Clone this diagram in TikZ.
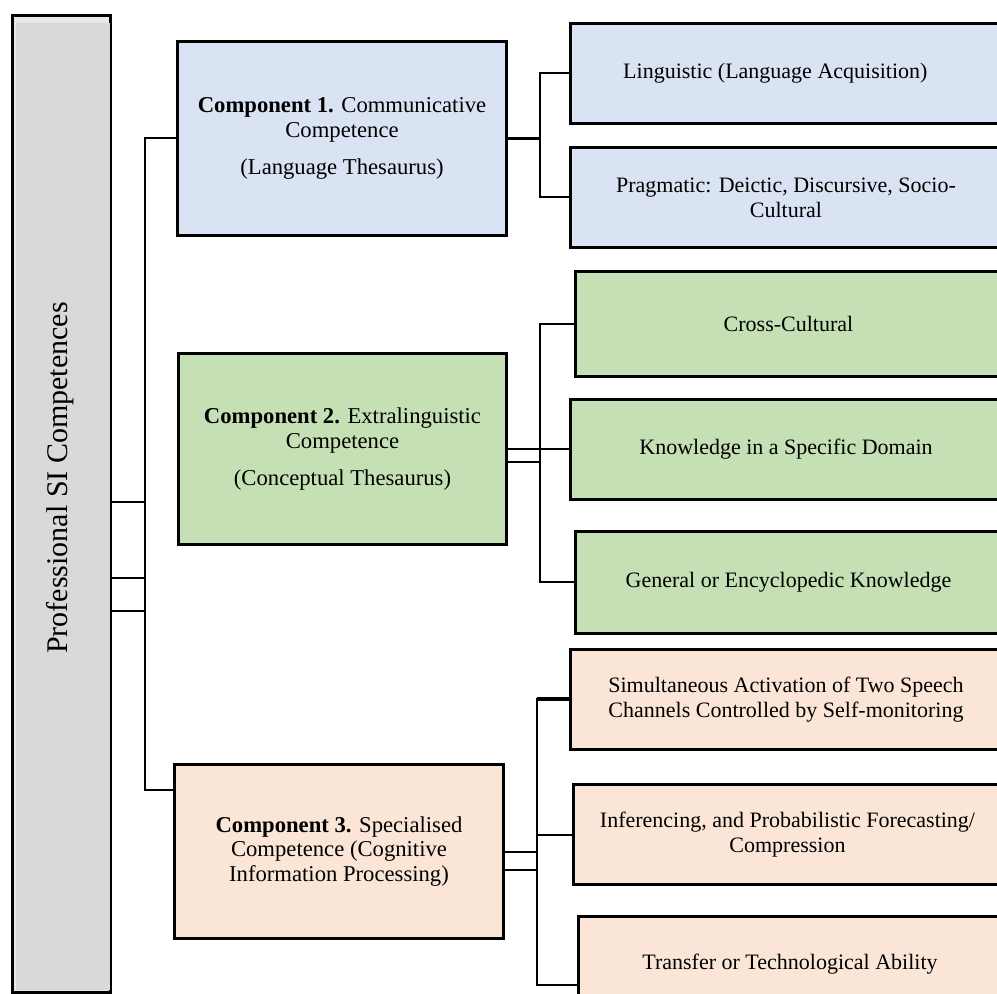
\documentclass[tikz,border=0pt]{standalone}
\usepackage{fontspec}
\setmainfont{Liberation Serif}
\usetikzlibrary{positioning,calc}
\definecolor{sibar}{HTML}{D9D9D9}
\definecolor{sibarlight}{HTML}{E8E8E8}
\definecolor{siblue}{HTML}{DAE3F3}
\definecolor{sigreen}{HTML}{C5E0B4}
\definecolor{sipeach}{HTML}{FBE5D6}
\tikzset{
  compbox/.style={draw=black, line width=2.25pt, anchor=north west, align=center, inner sep=0pt, font=\fontsize{17}{18.5}\selectfont},
  leafbox/.style={compbox, minimum height=75pt, font=\fontsize{16.5}{18.5}\selectfont},
  link/.style={black, line width=1.5pt},
}

\begin{document}
\begin{tikzpicture}[x=0.75pt, y=-0.75pt]
    \useasboundingbox (0,0) rectangle (997,994);
    \clip (0,0) rectangle (997,994);
    % Left bar
    \node[draw=black, line width=2pt, fill=sibarlight, anchor=north west, minimum width=73.5pt, minimum height=732.75pt, inner sep=0pt] (bar) at (11,14) {};
    \fill[sibar] ($(bar.north west)+(5,9)$) rectangle ($(bar.south east)+(-2,-4)$);
    \node[rotate=90, font=\fontsize{22.5}{26}\selectfont] (bartext) at (60,478) {Professional SI Competences};
    % Components
    \node[compbox, fill=siblue, minimum width=246.75pt, minimum height=145.5pt] (c1) at (176,40) {\textbf{Component 1.} Communicative\\Competence\\[9pt](Language Thesaurus)};
    \node[compbox, fill=sigreen, minimum width=246pt, minimum height=143.25pt] (c2) at (177,352) {\textbf{Component 2.} Extralinguistic\\Competence\\[9pt](Conceptual Thesaurus)};
    \node[compbox, fill=sipeach, minimum width=246.75pt, minimum height=130.5pt] (c3) at (173,763) {\textbf{Component 3.} Specialised\\Competence (Cognitive\\Information Processing)};
    % Leaves
    \node[leafbox, fill=siblue, minimum width=323.25pt] (l1) at (569,22) {Linguistic (Language Acquisition)\hspace*{16pt}};
    \node[leafbox, fill=siblue, minimum width=323.25pt] (l2) at (569,146) {Pragmatic: Deictic, Discursive, Socio-\\Cultural};
    \node[leafbox, fill=sigreen, minimum width=319.5pt, minimum height=78.75pt] (g1) at (574,270) {Cross-Cultural};
    \node[leafbox, fill=sigreen, minimum width=323.25pt] (g2) at (569,398) {Knowledge in a Specific Domain};
    \node[leafbox, fill=sigreen, minimum width=319.5pt, minimum height=76.5pt] (g3) at (574,530) {General or Encyclopedic Knowledge};
    \node[leafbox, fill=sipeach, minimum width=323.25pt] (p1) at (569,648) {Simultaneous Activation of Two Speech\\Channels Controlled by Self-monitoring};
    \node[leafbox, fill=sipeach, minimum width=321pt] (p2) at (572,783) {Inferencing, and Probabilistic Forecasting/\\Compression};
    \node[leafbox, fill=sipeach, minimum width=317.25pt, minimum height=71.25pt] (p3) at (577,915) {Transfer or Technological Ability};
    % Bar to spine
    \coordinate (spine) at (145,0);
    \foreach \yy in {502,578,611}
        \draw[link] (bar.east |- 0,\yy) -- (spine |- 0,\yy);
    \draw[link] (c1.west) -| (spine |- 0,790) -- (c3.west |- 0,790);
    % Component 1 to leaves
    \coordinate (j1) at (540,0);
    \draw[link, line width=2.5pt] (c1.east) -- (j1 |- c1.east);
    \draw[link] (l1.west) -| (j1 |- c1.east) |- (l2.west);
    % Component 2 to leaves
    \coordinate (j2) at (540,0);
    \draw[link] (c2.east) -- (j2 |- c2.east);
    \draw[link] ($(c2.east)+(0,13)$) -- ($(j2 |- c2.east)+(0,13)$);
    \draw[link] (g1.west) -| (j2 |- g3.west) -- (g3.west);
    \draw[link] (j2 |- g2.west) -- (g2.west);
    % Component 3 to leaves
    \coordinate (j3) at (537,0);
    \draw[link] (c3.east) -- (j3 |- c3.east);
    \draw[link] ($(c3.east)+(0,18)$) -- ($(j3 |- c3.east)+(0,18)$);
    \draw[link, line width=3pt] (p1.west) -- (j3 |- p1.west);
    \draw[link] (p1.west) -| (j3 |- 0,985) -- (p3.west |- 0,985);
    \draw[link] (j3 |- p2.west) -- (p2.west);
\end{tikzpicture}
\end{document}
